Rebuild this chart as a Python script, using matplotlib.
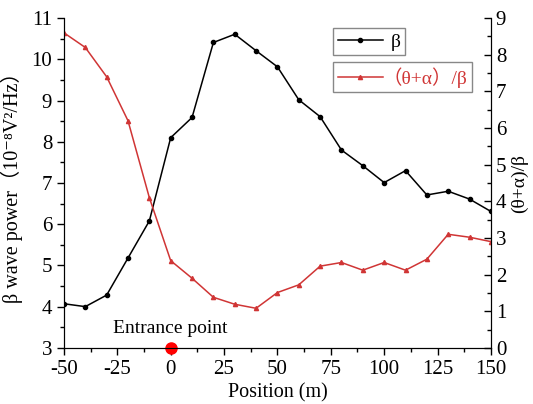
import matplotlib
matplotlib.use("Agg")
import matplotlib.pyplot as plt
from matplotlib.ticker import MultipleLocator

plt.rcParams["font.family"] = ["Liberation Serif", "Noto Sans CJK SC", "DejaVu Serif"]
plt.rcParams["axes.unicode_minus"] = False
plt.rcParams["font.size"] = 14

position = [-50, -40, -30, -20, -10, 0, 10, 20, 30, 40, 50,
            60, 70, 80, 90, 100, 110, 120, 130, 140, 150]
beta_power = [4.07, 4.0, 4.28, 5.18, 6.08, 8.1, 8.59, 10.41, 10.61, 10.21, 9.82,
              9.02, 8.61, 7.8, 7.42, 7.01, 7.3, 6.71, 6.8, 6.61, 6.31]
ratio = [8.6, 8.2, 7.4, 6.2, 4.1, 2.38, 1.9, 1.38, 1.19, 1.08, 1.51,
         1.72, 2.23, 2.33, 2.12, 2.33, 2.12, 2.42, 3.1, 3.02, 2.9]

red = "#d03535"


def main():
    fig = plt.figure(figsize=(5.33, 4.04), dpi=100)
    ax = fig.add_axes([0.120, 0.139, 0.801, 0.816])
    ax2 = ax.twinx()

    l1, = ax.plot(position, beta_power, color="black", lw=1.1,
                  marker="o", ms=3, label="β")
    l2, = ax2.plot(position, ratio, color=red, lw=1.1,
                   marker="^", ms=3, label="（θ+α）/β")

    ax.set_xlim(-50, 150)
    ax.set_ylim(3, 11)
    ax2.set_ylim(0, 9)
    ax.xaxis.set_major_locator(MultipleLocator(25))
    ax.xaxis.set_minor_locator(MultipleLocator(12.5))
    ax.yaxis.set_major_locator(MultipleLocator(1))
    ax.yaxis.set_minor_locator(MultipleLocator(0.5))
    ax2.yaxis.set_major_locator(MultipleLocator(1))
    ax2.yaxis.set_minor_locator(MultipleLocator(0.5))

    for a in (ax, ax2):
        a.spines["top"].set_visible(False)
    ax.tick_params(which="major", direction="out", length=5, width=1, labelsize=15)
    ax.tick_params(which="minor", direction="out", length=3, width=1)
    ax2.tick_params(which="major", direction="in", length=5, width=1, labelsize=15)
    ax2.tick_params(which="minor", direction="in", length=3, width=1)

    ax.set_xlabel("Position (m)", fontsize=14.5, labelpad=3)
    ax.set_ylabel("β wave power（10⁻⁸V²/Hz）", fontsize=14.5, labelpad=6)
    ax2.set_ylabel("(θ+α)/β", fontsize=14, labelpad=3)

    ax.text(0, 3.46, "Entrance point", ha="center", va="center", fontsize=14)
    ax.plot([0], [3], "o", color="red", ms=8, clip_on=False, zorder=10)

    leg1 = ax2.legend(handles=[l1], loc="upper left",
                      bbox_to_anchor=(0.630, 0.970), borderaxespad=0,
                      fancybox=False, edgecolor="#888888", framealpha=1,
                      handlelength=2.3, handletextpad=0.4, fontsize=14,
                      borderpad=0.25)
    ax2.add_artist(leg1)
    leg2 = ax2.legend(handles=[l2], loc="upper left",
                      bbox_to_anchor=(0.630, 0.867), borderaxespad=0,
                      fancybox=False, edgecolor="#888888", framealpha=1,
                      handlelength=2.3, handletextpad=0.0, fontsize=14,
                      borderpad=0.25)
    for t in leg2.get_texts():
        t.set_color(red)

    fig.savefig("out.png", dpi=100)


if __name__ == "__main__":
    main()
